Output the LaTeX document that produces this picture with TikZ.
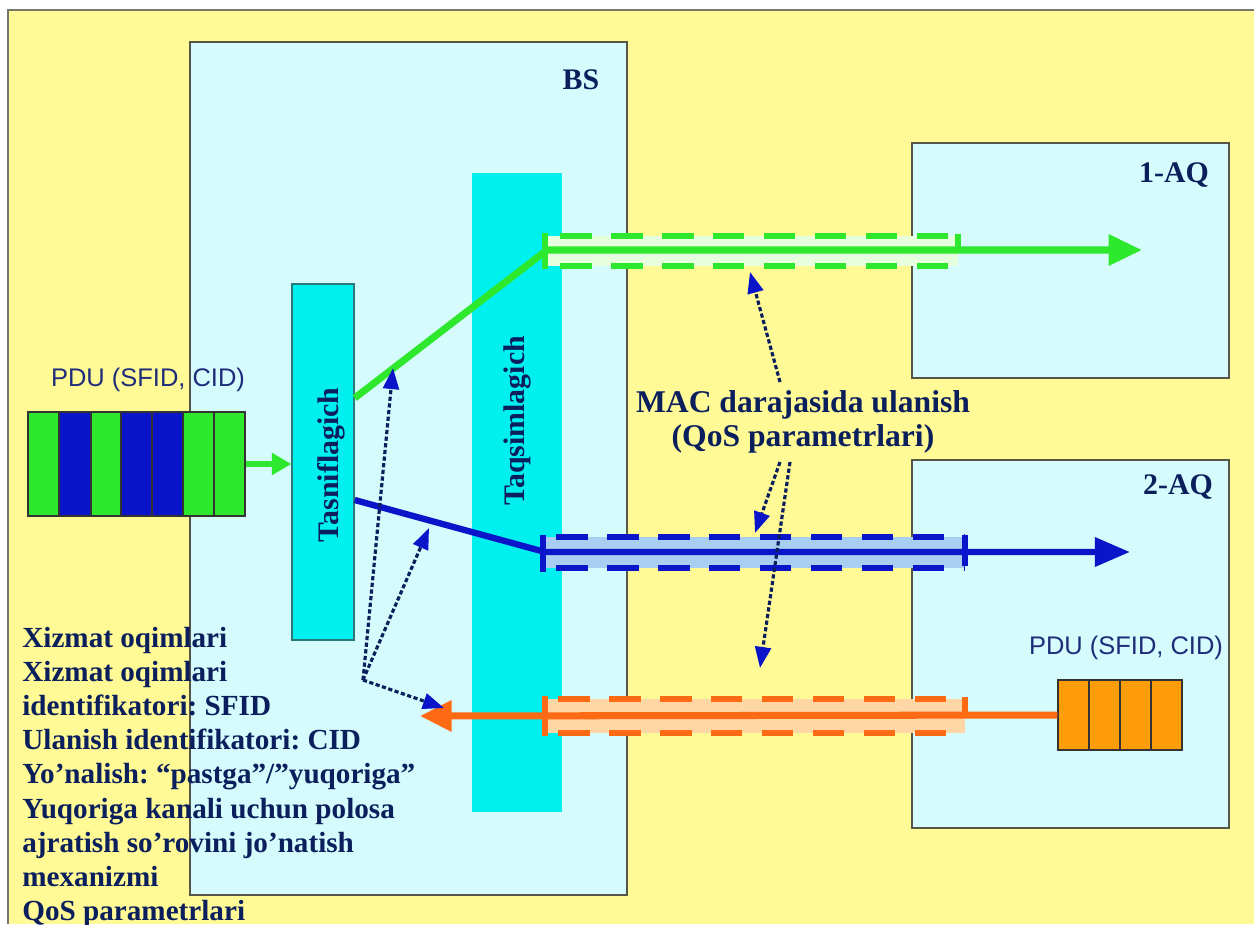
\documentclass[tikz,border=0pt]{standalone}
\usepackage{fontspec}
\setmainfont{Liberation Serif}
\newfontfamily\pdufont{Liberation Sans}
\usetikzlibrary{arrows.meta,fit}
\frenchspacing
\definecolor{bgyel}{HTML}{FFFA96}
\definecolor{boxcyan}{HTML}{D6FBFD}
\definecolor{barcyan}{HTML}{00F0F0}
\definecolor{navy}{HTML}{0A1F5C}
\definecolor{pduc}{HTML}{1E2D7A}
\definecolor{gr}{HTML}{2EE82E}
\definecolor{bl}{HTML}{0A14C8}
\definecolor{orl}{HTML}{FF6A14}
\definecolor{orbox}{HTML}{FF9C0A}
\definecolor{grtube}{HTML}{E6FFDC}
\definecolor{bltube}{HTML}{A8CFF2}
\definecolor{ortube}{HTML}{FFD6A6}
\definecolor{framec}{HTML}{55554A}
\definecolor{tasedge}{HTML}{2A7A7A}
\tikzset{
  panel/.style={draw=framec, line width=1.1pt, fill=boxcyan, inner sep=0pt},
  lbl/.style={text=navy, font=\bfseries\fontsize{17}{20}\selectfont, inner sep=0pt},
  pdulbl/.style={text=pduc, font=\pdufont\fontsize{14.5}{17}\selectfont, inner sep=0pt},
  tubeedge/.style={line width=3.4pt, dash pattern=on 18pt off 11pt},
  tubecap/.style={line width=3.2pt},
  ptr/.style={draw=navy, line width=1.8pt, dash pattern=on 2.4pt off 1.4pt,
    -{Triangle[length=12pt,width=9pt,color=bl]}},
  cell/.style={draw=black!80, line width=0.6pt}
}
\begin{document}
\begin{tikzpicture}[x=0.02cm, y=-0.02cm]
\useasboundingbox (0,0) rectangle (1254,924);
% background frame
\fill[bgyel] (8,10) rectangle (1254,924);
\draw[framec!80, line width=1.2pt] (8,924) -- (8,10) -- (1254,10);

% panels
\node[panel, fit={(190,42)(627,895)}] (bs) {};
\node[panel, fit={(912,143)(1229,378)}] (aq1) {};
\node[panel, fit={(912,460)(1229,828)}] (aq2) {};
\node[lbl, anchor=center] (bslbl) at (581,80) {BS};
\node[lbl, anchor=center] (aq1lbl) at (1174,175) {1-AQ};
\node[lbl, anchor=center] (aq2lbl) at (1178,487) {2-AQ};

% distributor bar and classifier
\node[fill=barcyan, inner sep=0pt, fit={(472,173)(562,812)}] (taq) {};
\node[draw=tasedge, fill=barcyan, line width=0.8pt, inner sep=0pt, fit={(292,284)(354,640)}] (tas) {};
\node[lbl, rotate=90] (taqlbl) at (517,421) {Taqsimlagich};
\node[lbl, rotate=90] (taslbl) at (331,465) {Tasniflagich};

% left PDU
\node[pdulbl] (pdu1lbl) at (148,380) {PDU (SFID, CID)};
\fill[gr] (28,412) rectangle (59,516);
\fill[bl] (59,412) rectangle (91,516);
\fill[gr] (91,412) rectangle (121,516);
\fill[bl] (121,412) rectangle (183,516);
\fill[gr] (183,412) rectangle (245,516);
\foreach \xx in {59,91,121,152,183,214} \draw[cell] (\xx,412) -- (\xx,516);
\node[cell, fit={(28,412)(245,516)}, inner sep=0pt] (pdu1) {};
\draw[gr, line width=3pt, -{Triangle[length=11pt,width=12pt]}] (pdu1.east) -- (pdu1.east -| tas.west);

% right PDU
\node[pdulbl] (pdu2lbl) at (1126,648) {PDU (SFID, CID)};
\fill[orbox] (1058,680) rectangle (1182,750);
\foreach \xx in {1089,1120,1151} \draw[cell] (\xx,680) -- (\xx,750);
\node[cell, fit={(1058,680)(1182,750)}, inner sep=0pt] (pdu2) {};

% tubes
\fill[grtube] (545,236) rectangle (958,266);
\draw[gr, tubeedge] (560,236) -- (958,236);
\draw[gr, tubeedge] (560,266) -- (958,266);
\draw[gr, tubecap] (545,233) -- (545,269);
\draw[gr, tubecap] (958,234) -- (958,252);

\fill[bltube] (543,537) rectangle (965,568);
\draw[bl, tubeedge] (556,537) -- (965,537);
\draw[bl, tubeedge] (556,568) -- (965,568);
\draw[bl, tubecap] (543,535) -- (543,572);
\draw[bl, tubecap] (965,535) -- (965,566);

\fill[ortube] (545,699) rectangle (965,733);
\draw[orl, tubeedge] (558,699) -- (965,699);
\draw[orl, tubeedge] (558,733) -- (965,733);
\draw[orl, tubecap] (545,696) -- (545,736);
\draw[orl, tubecap] (965,697) -- (965,718);

% flows
\coordinate (gy) at (0,398);
\coordinate (by) at (0,500);
\coordinate (gbend) at (547,250);
\coordinate (gtip) at (1142,250);
\coordinate (bbend) at (545,552);
\coordinate (btip) at (1130,552);
\coordinate (otip) at (420,716);
\draw[gr, line width=4pt, line join=round, -{Triangle[length=19pt,width=17pt]}]
  (tas.east |- gy) -- (gbend) -- (gtip);
\draw[bl, line width=3.6pt, line join=round, -{Triangle[length=20pt,width=16pt]}]
  (tas.east |- by) -- (bbend) -- (btip);
\draw[orl, line width=4pt, -{Triangle[length=18pt,width=17pt]}]
  (pdu2.west) -- (otip);

% pointer arrows from the classifier origin
\coordinate (po) at (363,680);
\coordinate (pg) at (393,368);
\coordinate (pb) at (429,528);
\coordinate (por) at (444,708);
\draw[ptr] (po) -- (pg);
\draw[ptr] (po) -- (pb);
\draw[ptr] (po) -- (por);

% MAC label and its pointers
\node[lbl, align=center, font=\bfseries\fontsize{18}{19.5}\selectfont] (mac) at (803,422)
  {MAC darajasida ulanish\\(QoS parametrlari)};
\coordinate (m1) at (780,382);
\coordinate (m1t) at (750,272);
\coordinate (m2) at (780,462);
\coordinate (m2t) at (755,533);
\coordinate (m3) at (790,462);
\coordinate (m3t) at (760,668);
\draw[ptr] (m1) -- (m1t);
\draw[ptr] (m2) -- (m2t);
\draw[ptr] (m3) -- (m3t);

% left text list
\node[lbl, align=left, anchor=north west, font=\bfseries\fontsize{16.6}{19.4}\selectfont] (list) at (22,627)
  {Xizmat oqimlari\\
   Xizmat oqimlari\\
   identifikatori: SFID\\
   Ulanish identifikatori: CID\\
   Yo’nalish: “pastga”/”yuqoriga”\\
   Yuqoriga kanali uchun polosa\\
   ajratish so’rovini jo’natish\\
   mexanizmi\\
   QoS parametrlari};
\end{tikzpicture}
\end{document}
